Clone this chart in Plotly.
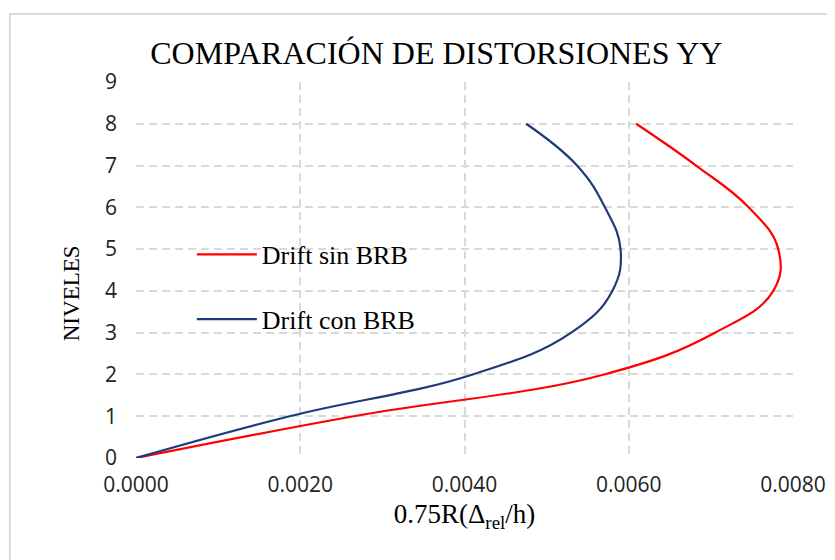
import plotly.graph_objects as go

niveles = [0, 1, 2, 3, 4, 5, 6, 7, 8]
drift_sin_brb = [0.0, 0.00265, 0.0057, 0.00705, 0.00776, 0.00782, 0.00746, 0.00682, 0.00609]
drift_con_brb = [0.0, 0.00187, 0.0041, 0.0053, 0.0058, 0.0059, 0.00571, 0.00537, 0.00475]

serif = "Liberation Serif, Times New Roman, serif"
grid = "#d9d9d9"

fig = go.Figure()
fig.add_trace(go.Scatter(
  x=drift_sin_brb, y=niveles, mode="lines", name="Drift sin BRB",
  line=dict(color="#ff0000", width=2.2, shape="spline", smoothing=1.2),
  legendgroup="a"))
fig.add_trace(go.Scatter(
  x=drift_con_brb, y=niveles, mode="lines", name="Drift con BRB",
  line=dict(color="#1f3a78", width=2.2, shape="spline", smoothing=1.2),
  legendgroup="b"))

# the page body adds 8px, margins account for it
fig.update_layout(
  width=835, height=560,
  margin=dict(l=128, r=50, t=74, b=110, autoexpand=False),
  paper_bgcolor="white", plot_bgcolor="white",
  title=dict(text="COMPARACIÓN DE DISTORSIONES YY", x=0.513, xanchor="center",
             y=0.92, yanchor="middle", font=dict(family=serif, size=32, color="#000")),
  legend=dict(x=0.085, y=0.604, xanchor="left", yanchor="top", bgcolor="rgba(0,0,0,0)",
              font=dict(family=serif, size=26, color="#000"), tracegroupgap=28,
              itemwidth=60),
  shapes=[dict(type="rect", xref="paper", yref="paper", x0=-0.192, x1=1.2,
               y0=-0.5, y1=1.181, line=dict(color="#d9d9d9", width=2), layer="below")],
  annotations=[dict(text="NIVELES", xref="paper", yref="paper", x=-0.119, y=0.439,
                    textangle=-90, showarrow=False,
                    font=dict(family=serif, size=23, color="#000"))],
)
fig.update_xaxes(
  range=[0, 0.008], dtick=0.002, tickformat=".4f", showline=False, zeroline=False,
  showgrid=True, gridcolor=grid, griddash="8px,5px", gridwidth=2, ticks="",
  automargin=False, ticklabelstandoff=12,
  tickfont=dict(family="Open Sans, sans-serif", size=21, color="#222"),
  title=dict(text="0.75R(Δ<sub>rel</sub>/h)", font=dict(family=serif, size=27, color="#000"),
             standoff=7))
fig.update_yaxes(
  range=[0, 9], dtick=1, showline=False, zeroline=False,
  showgrid=True, gridcolor=grid, griddash="8px,5px", gridwidth=2, ticks="",
  automargin=False, ticklabelstandoff=18,
  tickfont=dict(family="Open Sans, sans-serif", size=21, color="#222"))

fig.write_html("out.html")
